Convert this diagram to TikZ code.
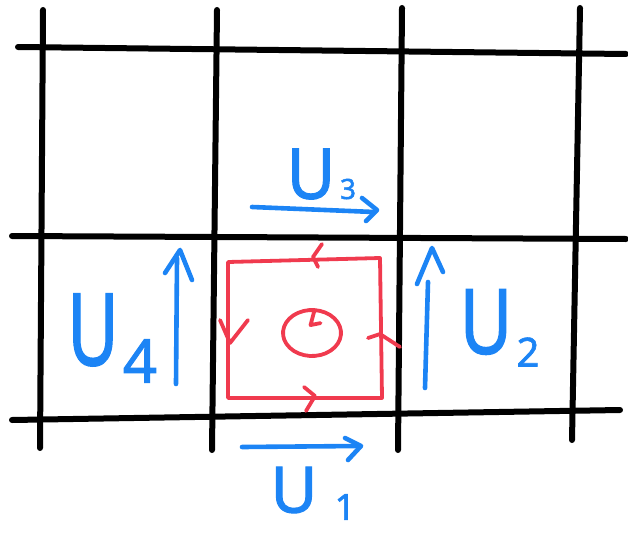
\documentclass[tikz,border=0pt]{standalone}
\usepackage{fontspec}
\setmainfont{Noto Sans}
\newfontfamily\lblfont[FakeBold=1.6]{Noto Sans}
\usepackage{graphicx}
\definecolor{gridblack}{RGB}{0,0,0}
\definecolor{loopred}{RGB}{240,58,78}
\definecolor{linkblue}{RGB}{28,132,245}
\tikzset{
  gridline/.style={draw=gridblack, line width=6pt, line cap=round},
  loopline/.style={draw=loopred, line width=3.8pt, line cap=round, line join=round},
  linkline/.style={draw=linkblue, line width=4.6pt, line cap=round, line join=round},
  biglabel/.style={text=linkblue, inner sep=0pt, anchor=center, font=\lblfont},
}
\newcommand{\bigU}[2]{\scalebox{#2}[1]{\fontsize{#1}{#1}\selectfont U}}
\newcommand{\subdig}[2]{\fontsize{#1}{#1}\selectfont #2}
\begin{document}
\begin{tikzpicture}[x=1pt,y=-1pt]
\useasboundingbox (0,0) rectangle (628,535);
% grid
\draw[gridline] (18,47) -- (626,54);
\draw[gridline] (12,236) -- (626,239);
\draw[gridline] (12,420) -- (620,410);
\draw[gridline] (43,10) -- (40,448);
\draw[gridline] (217,10) -- (212,450);
\draw[gridline] (402,8) -- (398,450);
\draw[gridline] (580,8) -- (572,440);
% red plaquette loop
\coordinate (p1) at (228,262);
\coordinate (p2) at (380,258);
\coordinate (p3) at (382,398);
\coordinate (p4) at (228,398);
\draw[loopline] (p1) -- (p2) -- (p3) -- (p4) -- cycle;
\draw[loopline] (322,244) -- (313,257) -- (318,267);
\draw[loopline] (220,320) -- (230,343) -- (248,320);
\draw[loopline] (304,387) -- (315,396) -- (306,411);
\draw[loopline] (368,338) -- (380,334) -- (400,347);
% circulation symbol
\coordinate (c) at (312,333);
\draw[loopline] (c) ++(40:29pt and 23pt) arc[start angle=40, end angle=445, x radius=29pt, y radius=23pt] -- ++(-4,15) -- ++(10,-2);
% blue link arrows
\coordinate (a3s) at (252,207); \coordinate (a3e) at (374,212);
\draw[linkline] (a3s) -- (a3e);
\draw[linkline] (362,198) -- (377,210) -- (366,221);
\coordinate (a1s) at (242,447); \coordinate (a1e) at (358,446);
\draw[linkline] (a1s) -- (a1e);
\draw[linkline] (345,438) -- (361,446) -- (348,460);
\coordinate (a4s) at (176,384); \coordinate (a4e) at (177,258);
\draw[linkline] (a4s) -- (a4e);
\draw[linkline] (165,273) -- (180,250) -- (192,280);
\coordinate (a2s) at (425,388); \coordinate (a2e) at (428,282);
\draw[linkline] (a2s) -- (a2e);
\draw[linkline] (417,284) -- (432,248) -- (443,272);
% labels
\node[biglabel] (u3) at (311,174) {\bigU{70}{0.95}};
\node[biglabel] (u3s) at (348,189) {\subdig{28}{3}};
\node[biglabel] (u1) at (294,490) {\bigU{64}{1.0}};
\node[biglabel] (u1s) at (345,507) {\subdig{36}{1}};
\node[biglabel] (u4) at (93,330) {\bigU{100}{0.7}};
\node[biglabel] (u4s) at (140,361) {\subdig{60}{4}};
\node[biglabel] (u2) at (486,322) {\bigU{90}{0.8}};
\node[biglabel] (u2s) at (528,352) {\subdig{40}{2}};
\end{tikzpicture}
\end{document}
